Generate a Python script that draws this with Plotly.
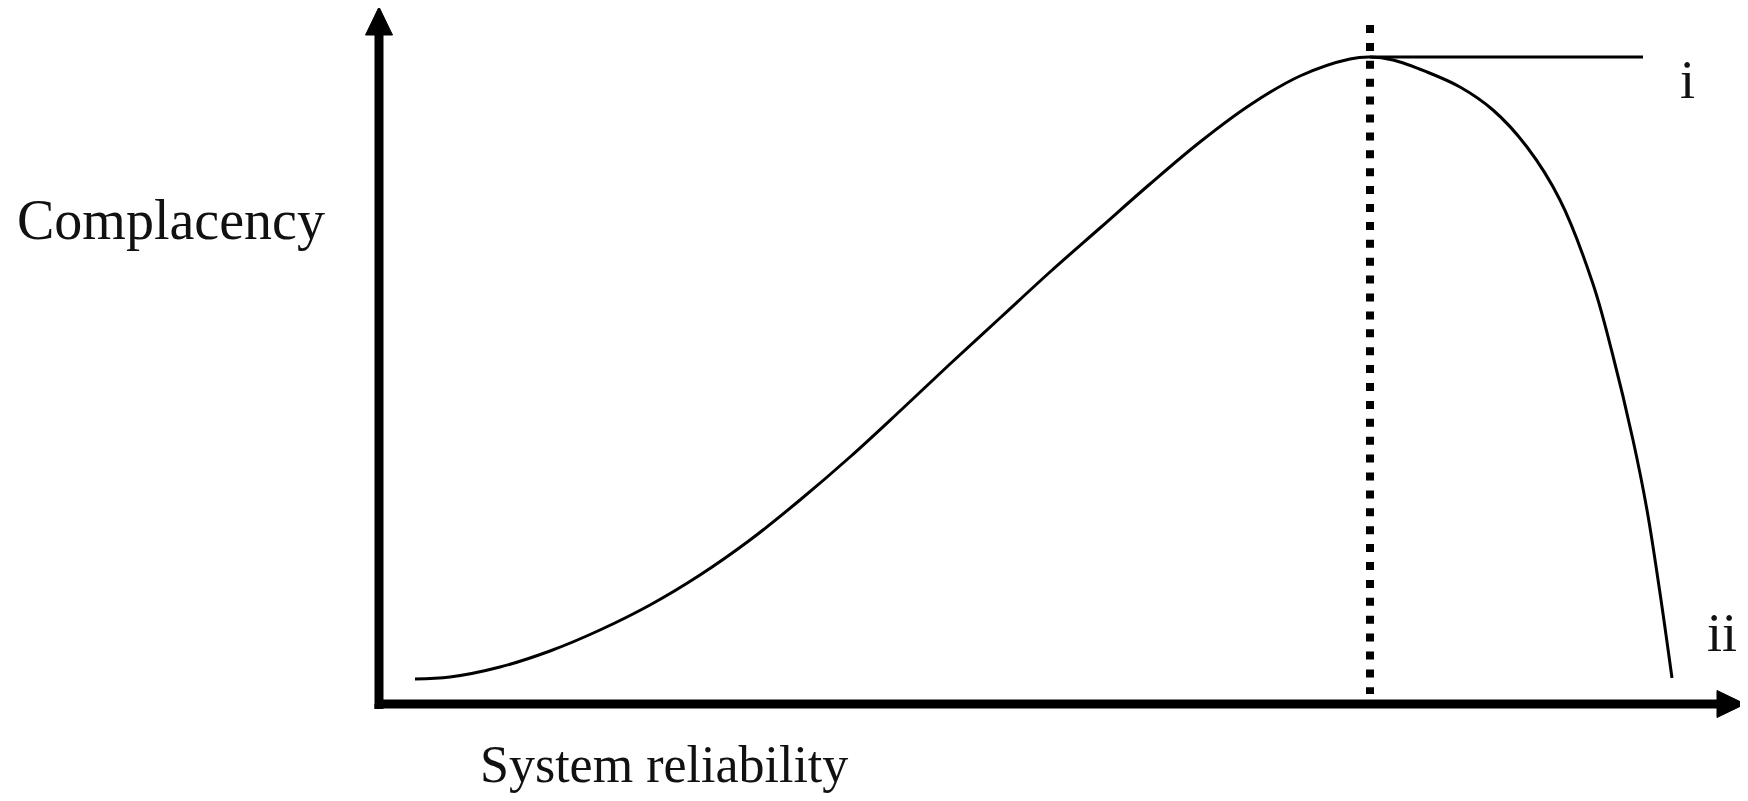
import plotly.graph_objects as go

# Data units: x = system reliability, y = complacency (origin at the axis corner)
reliability = [36, 71, 121, 171, 221, 271, 321, 371, 421, 471, 521, 571, 621, 671, 721, 771,
               821, 871, 921, 971, 991,
               1014, 1048, 1081, 1114, 1148, 1181, 1214, 1233, 1254, 1268, 1281, 1293]
complacency = [25, 27, 37, 53, 74, 99, 129, 164, 204, 247, 293, 340, 386, 432, 476, 520,
               562, 599, 628, 645, 647,
               644, 632, 617, 594, 557, 504, 420, 352, 264, 194, 111, 26]

peak_x = 991
peak_y = 647
plateau_end_x = 1264
threshold_y = [679, 10]

# axis geometry (data units)
y_axis_top = 669
y_arrow_tip = 697
x_axis_right = 1338
x_arrow_tip = 1366
axis_start = -5
head_half = 13.5

labels = ["Complacency", "System reliability", "i", "ii"]

fig = go.Figure()

# axes (single polyline for a square corner)
fig.add_trace(go.Scatter(x=[0, 0, x_axis_right], y=[y_axis_top, 0, 0], mode="lines",
                         line=dict(color="black", width=9), hoverinfo="skip"))
fig.add_trace(go.Scatter(x=[0, 0], y=[0, axis_start], mode="lines",
                         line=dict(color="black", width=9), hoverinfo="skip"))
# arrow heads
fig.add_trace(go.Scatter(x=[-head_half, head_half, 0, -head_half],
                         y=[y_axis_top, y_axis_top, y_arrow_tip, y_axis_top],
                         mode="lines", fill="toself", fillcolor="black",
                         line=dict(color="black", width=1), hoverinfo="skip"))
fig.add_trace(go.Scatter(x=[x_axis_right, x_axis_right, x_arrow_tip, x_axis_right],
                         y=[-head_half, head_half, 0, -head_half],
                         mode="lines", fill="toself", fillcolor="black",
                         line=dict(color="black", width=1), hoverinfo="skip"))

# dotted threshold line
fig.add_trace(go.Scatter(x=[peak_x, peak_x], y=threshold_y, mode="lines",
                         line=dict(color="black", width=8, dash="8px,9.9px"), hoverinfo="skip"))

# plateau (i)
fig.add_trace(go.Scatter(x=[peak_x, plateau_end_x], y=[peak_y, peak_y], mode="lines",
                         line=dict(color="black", width=3), hoverinfo="skip"))

# main curve (ii)
fig.add_trace(go.Scatter(x=reliability, y=complacency, mode="lines",
                         line=dict(color="black", width=3, shape="spline", smoothing=1.0),
                         hoverinfo="skip"))

font = dict(family="Liberation Serif", color="#111111")
fig.add_annotation(x=-364, y=484, text=labels[0], showarrow=False, xanchor="left",
                   yanchor="middle", font=dict(size=56, **font))
fig.add_annotation(x=99, y=-60, text=labels[1], showarrow=False, xanchor="left",
                   yanchor="middle", font=dict(size=52, **font))
fig.add_annotation(x=1308, y=624, text=labels[2], showarrow=False, xanchor="center",
                   yanchor="middle", font=dict(size=54, **font))
fig.add_annotation(x=1343, y=71, text=labels[3], showarrow=False, xanchor="center",
                   yanchor="middle", font=dict(size=54, **font))

# the page body has an 8px default margin, so the figure is 8px smaller each way
fig.update_layout(width=1740, height=793, margin=dict(l=0, r=0, t=0, b=0),
                  paper_bgcolor="white", plot_bgcolor="white", showlegend=False,
                  xaxis=dict(range=[-371, 1369], visible=False, fixedrange=True),
                  yaxis=dict(range=[-97, 696], visible=False, fixedrange=True))

fig.write_html("out.html")
